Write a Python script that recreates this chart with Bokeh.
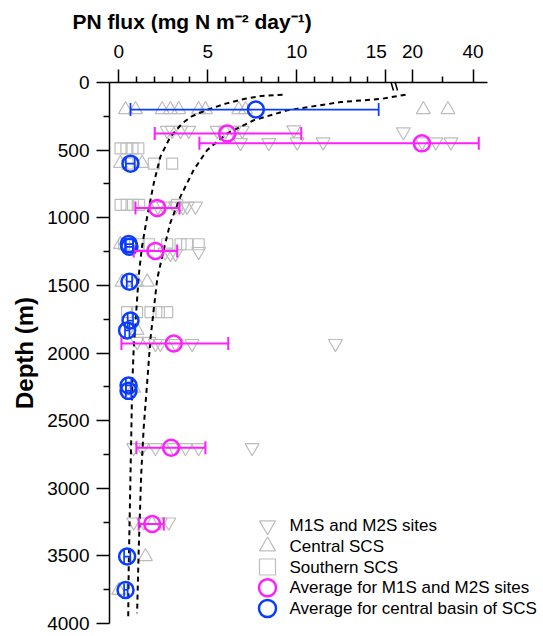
from bokeh.plotting import figure
from bokeh.models import (Range1d, FixedTicker, Whisker, TeeHead, ColumnDataSource,
                          Arrow, Title)
from bokeh.core.properties import value
from bokeh.embed import file_html
from bokeh.resources import INLINE

# ---------------- data ----------------
# M1S and M2S sites (down triangles)
m12_depth = [355, 355, 355, 355, 355, 355, 355, 355, 350, 365,
             445, 445, 440, 440, 440, 440, 440,
             915, 915, 915, 915, 915, 920,
             1265, 1265, 1250, 1255,
             1915, 1915, 1930, 1930, 1930, 1930, 1930,
             2700, 2700, 2700, 2700, 2700, 2700, 2700,
             3250, 3250, 3250, 3250]
m12_flux = [2.72, 3.0, 3.47, 3.93, 5.53, 6.0, 6.47, 6.93, 9.83, 18.3,
            6.84, 8.43, 10.02, 11.48, 23.2, 27.7, 32.7,
            2.2, 2.53, 3.19, 3.84, 4.31, 3.6,
            2.9, 3.19, 4.49, 2.6,
            1.03, 1.69, 2.06, 2.34, 3.19, 4.12, 12.17,
            0.84, 1.31, 2.06, 3.09, 3.75, 4.49, 7.49,
            0.84, 1.4, 2.34, 2.81]

# Central SCS (up triangles)
cen_depth = [200, 200, 200, 200, 200, 200, 200, 200, 200, 200, 200,
             598, 598, 1196, 1475, 1475, 1475, 1833, 2260, 3505, 3755]
cen_flux = [0.38, 0.94, 2.44, 2.9, 3.37, 4.49, 4.87, 6.74, 7.12, 23.6, 31.7,
            0.1, 1.31, 0.1, 0.19, 1.0, 1.6, 1.03, 0.84, 1.5, 0.0]

# Southern SCS (squares)
sou_depth = [487, 487, 487, 487, 600, 600, 600,
             905, 905, 905, 905, 905,
             1196, 1196, 1196, 1196, 1196, 1196, 1196,
             1698, 1698, 1698, 1698, 1698, 2270]
sou_flux = [0.1, 0.43, 0.77, 1.1, 0.5, 1.97, 3.0,
            0.1, 0.45, 0.8, 1.15, 3.28,
            0.3, 1.12, 1.69, 2.72, 3.47, 3.84, 4.49,
            0.47, 1.03, 1.78, 2.25, 2.72, 0.5]

# Average for M1S and M2S sites
avg_m_depth = [377, 450, 927, 1245, 1930, 2701, 3264]
avg_m_flux = [6.09, 23.1, 2.16, 2.06, 3.09, 2.94, 1.88]
avg_m_lo = [2.02, 4.53, 0.94, 0.84, 0.15, 0.99, 1.12]
avg_m_hi = [10.25, 41.9, 3.41, 3.28, 6.15, 4.87, 2.53]

# Average for central basin of SCS
avg_c_depth = [200, 600, 1195, 1215, 1473, 1760, 1833, 2240, 2280, 3505, 3752]
avg_c_flux = [7.7, 0.66, 0.56, 0.6, 0.6, 0.66, 0.47, 0.55, 0.55, 0.47, 0.38]
avg_c_lo = [0.66, 0.4, 0.35, 0.4, 0.45, 0.5, 0.35, 0.4, 0.4, 0.3, 0.3]
avg_c_hi = [14.6, 0.9, 0.8, 0.8, 0.75, 0.8, 0.6, 0.7, 0.7, 0.65, 0.5]

# Dashed fitted curves
c1_depth = [90, 100, 120, 156, 205, 250, 303, 401, 548, 743, 989, 1209, 1429,
            1967, 2260, 2628, 2897, 3582, 3970]
c1_flux = [9.2, 8.0, 7.1, 6.0, 4.9, 4.1, 3.56, 2.90, 2.34, 1.97, 1.60, 1.31, 1.12,
           0.84, 0.75, 0.70, 0.66, 0.56, 0.53]
c2_depth = [90, 100, 120, 145, 206, 279, 377, 499, 646, 842, 1037, 1233, 1453,
            1894, 2211, 2554, 2897, 3457, 3924]
c2_flux = [18.7, 17.3, 14.8, 12.46, 9.46, 7.58, 6.09, 4.97, 4.21, 3.47, 2.90, 2.53,
           2.16, 1.78, 1.60, 1.40, 1.26, 1.12, 1.03]

x_major = [0, 5, 10, 15, 20, 40]
x_major_labels = ["0", "5", "10", "15\u2003", "20", "40"]
x_minor = [1, 2, 3, 4, 6, 7, 8, 9, 11, 12, 13, 14, 30]
y_major = [0, 500, 1000, 1500, 2000, 2500, 3000, 3500, 4000]
y_minor = [250, 750, 1250, 1750, 2250, 2750, 3250, 3750]

legend_labels = ["M1S and M2S sites", "Central SCS", "Southern SCS",
                 "Average for M1S and M2S sites", "Average for central basin of SCS"]


# broken-axis transform
def fwd(x):
    if x <= 15:
        return x
    if x <= 20:
        return 15 + (x - 15) * 0.3
    return 16.5 + (x - 20) * 0.17


def tr(lst):
    return [fwd(v) for v in lst]


FONT = "Liberation Sans"
GRAY = "#BDBDBD"
MAG = "#FF1EFF"
BLUE = "#0A3CFF"

# frame geometry (pixels)
FL, FR, FT, FB = 109, 540, 82, 623
X0, X1 = -0.52, 23.69
Y0, Y1 = 4000, 0


def sx_to_data(px):
    return X0 + (px - FL) * (X1 - X0) / (FR - FL)


def sy_to_data(py):
    return Y1 + (py - FT) * (Y0 - Y1) / (FB - FT)


p = figure(width=543, height=636, output_backend="svg", toolbar_location=None,
           x_range=Range1d(X0, X1), y_range=Range1d(Y0, Y1),
           x_axis_location="above",
           min_border_left=FL, min_border_right=543 - FR, min_border_top=FT,
           min_border_bottom=636 - FB)
p.outline_line_color = None
p.grid.visible = False

xa = p.xaxis[0]
xa.ticker = FixedTicker(ticks=tr(x_major), minor_ticks=tr(x_minor))
xa.major_label_overrides = {fwd(v): s for v, s in zip(x_major, x_major_labels)}
xa.bounds = (X0, 20.71)
ya = p.yaxis[0]
ya.ticker = FixedTicker(ticks=y_major, minor_ticks=y_minor)
ya.axis_label = "Depth (m)"

for ax in (xa, ya):
    ax.axis_line_width = 1.5
    ax.major_tick_line_width = 1.5
    ax.minor_tick_line_width = 1.5
    ax.major_tick_out = 13
    ax.major_tick_in = 0
    ax.minor_tick_out = 6
    ax.minor_tick_in = 0
    ax.major_label_text_font = FONT
    ax.major_label_text_font_size = "19px"
    ax.major_label_text_color = "black"
    ax.axis_label_text_font = FONT
    ax.axis_label_text_font_style = "bold"
    ax.axis_label_text_font_size = "24px"
    ax.axis_label_text_color = "black"
xa.major_label_standoff = 8
ya.major_label_standoff = 7
ya.axis_label_standoff = 6
ya.major_label_orientation = "horizontal"

p.add_layout(Title(text="PN flux (mg N m\u207b\u00b2 day\u207b\u00b9)", align="left",
                   offset=-37, text_font=FONT, text_font_style="bold",
                   text_font_size="21px", text_color="black", standoff=10), "above")

# gray site data
p.scatter(tr(m12_flux), m12_depth, marker="inverted_triangle", size=14,
          fill_color=None, line_color=GRAY, line_width=1.2)
p.scatter(tr(cen_flux), cen_depth, marker="triangle", size=14,
          fill_color=None, line_color=GRAY, line_width=1.2)
p.scatter(tr(sou_flux), sou_depth, marker="square", size=11,
          fill_color=None, line_color=GRAY, line_width=1.2)

# dashed curves
p.line(tr(c1_flux), c1_depth, line_color="black", line_width=2, line_dash="5 4")
p.line(tr(c2_flux), c2_depth, line_color="black", line_width=2, line_dash="5 4")

# error bars
src_m = ColumnDataSource(dict(y=avg_m_depth, x=tr(avg_m_flux), lo=tr(avg_m_lo), hi=tr(avg_m_hi)))
src_c = ColumnDataSource(dict(y=avg_c_depth, x=tr(avg_c_flux), lo=tr(avg_c_lo), hi=tr(avg_c_hi)))

wm = Whisker(source=src_m, base="y", lower="lo", upper="hi", dimension="width",
             line_color=MAG, line_width=2, level="glyph",
             upper_head=TeeHead(size=13, line_color=MAG, line_width=2),
             lower_head=TeeHead(size=13, line_color=MAG, line_width=2))
wc = Whisker(source=src_c, base="y", lower="lo", upper="hi", dimension="width",
             line_color=BLUE, line_width=1.7, level="glyph",
             upper_head=TeeHead(size=13, line_color=BLUE, line_width=1.7),
             lower_head=TeeHead(size=13, line_color=BLUE, line_width=1.7))
p.add_layout(wm)
p.add_layout(wc)

p.scatter("x", "y", source=src_m, marker="circle", size=16, fill_color=None,
          line_color=MAG, line_width=2.5)
p.scatter("x", "y", source=src_c, marker="circle", size=16, fill_color=None,
          line_color=BLUE, line_width=2.5)

# axis break marks
for xs in (15.15, 15.38):
    p.add_layout(Arrow(end=None, x_start=xs, y_start=-66, x_end=xs + 0.28, y_end=59,
                       line_color="black", line_width=1.5))

# legend (drawn as glyphs so the symbols keep the reference's size)
row_py = [525 + 20.75 * i for i in range(5)]
leg_y = [sy_to_data(v) for v in row_py]
gx = sx_to_data(267)
tx = sx_to_data(289)
leg_markers = ["inverted_triangle", "triangle", "square", "circle", "circle"]
leg_sizes = [16, 16, 16, 17, 17]
leg_colors = [GRAY, GRAY, GRAY, MAG, BLUE]
leg_widths = [1.2, 1.2, 1.2, 2.5, 2.5]
for yy, mk, sz, col, lw in zip(leg_y, leg_markers, leg_sizes, leg_colors, leg_widths):
    p.scatter([gx], [yy], marker=mk, size=sz, fill_color=None, line_color=col,
              line_width=lw)
p.text(x=[tx] * 5, y=leg_y, text=legend_labels, text_font=value(FONT),
       text_font_size="17px", text_baseline="middle", text_align="left",
       text_color="black")

open("out.html", "w").write(file_html(p, INLINE))
